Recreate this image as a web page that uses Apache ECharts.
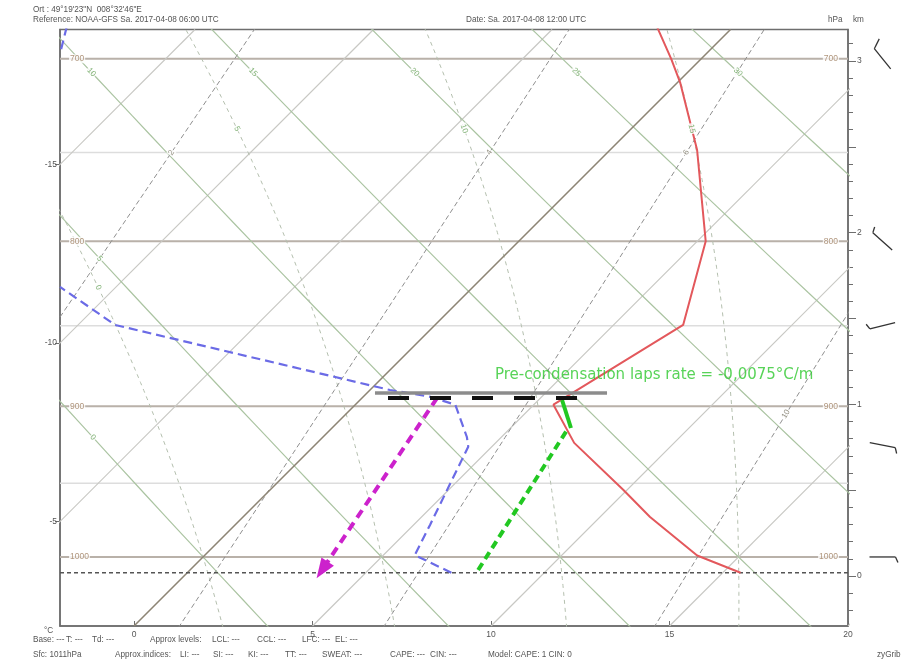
<!DOCTYPE html>
<html><head><meta charset="utf-8">
<script src="https://cdn.jsdelivr.net/npm/echarts@6/dist/echarts.min.js"></script>
<style>html,body{margin:0;padding:0;background:#fff}#c{width:906px;height:667px}</style>
</head><body><div id="c"></div>
<script>
// ---------------- data ----------------
const tempPressure = [1011, 999, 972.6, 954.5, 923.5, 899, 849.5, 800, 748.6, 712.6, 700, 684];
const tempValues   = [15.5, 13.8, 11.4, 9.9, 7.2, 5.55, 6.95, 5.24, 2.44, 0.09, -0.84, -2.1];
const dewPressureLow = [1011, 998.7, 978, 926, 919.7, 899, 894, 889.7, 849.5, 826.7];
const dewValuesLow   = [7.4, 5.88, 5.46, 4.34, 4.03, 2.8, 1.88, 0.56, -8.96, -11.57];
const dewPressureTop = [695, 684];
const dewValuesTop   = [-18.2, -18.65];
const surfacePressure = 1011;
const majorIsobars = [700, 800, 900, 1000];
const minorIsobars = [750, 850, 950];
const isotherms = [-20, -15, -10, -5, 0, 5, 10, 15, 20];
const dryAdiabats = [0, 5, 10, 15, 20, 25, 30];          // potential temperature, °C
const dryLabelP   = [920, 810, 707, 707, 707, 707, 707];
const moistAdiabats = [0, 5, 10, 15];                    // wet-bulb potential temperature, °C
const moistLabelP   = [827, 737, 737, 737];
const mixingRatios = [2, 4, 6, 10];                      // g/kg
const mixLabelP    = [750, 750, 750, 905];
const xTicks = [0, 5, 10, 15, 20];
const leftTicks = [-15, -10, -5];
const kmTicks = [0, 1, 2, 3];
const windPressure = [700, 800, 850, 925, 1000];
const windDir   = [321, 312, 256, 101, 90];
const windSpeed = [10, 5, 5, 5, 5];
// annotations: [x value, height km]
const greyBar      = [[6.75, 1.0658], [13.25, 1.0658]];
const blackDashed  = [[7.115, 1.0367], [12.41, 1.0367]];
const magentaArrow = [[8.49, 1.0367], [5.27, 0.0349]];
const greenDashed  = [[9.64, 0.0349], [12.13, 0.8503]];
const greenSolid   = [[11.99, 1.025], [12.24, 0.862]];
const noteText = 'Pre-condensation laps rate = -0,0075°C/m';
const notePos  = [10.11, 1.1707];

// ---------------- diagram geometry ----------------
const xMin = -2.073, xMax = 20;
const hBot = -0.2912, hTop = 3.1829;
const SKEW = 4.8095;   // °C shift per km (45° isotherms)
const PXX = 788 / (xMax - xMin), PXY = 596.5 / (hTop - hBot);
function hKm(p) { return 44.3308 * (1 - Math.pow(p / 1013.25, 0.190263)); }
function pt(T, p) { const h = hKm(p); return [T + (h - hBot) * SKEW, h]; }
function es(t) { return 6.112 * Math.exp(17.67 * t / (t + 243.5)); }
function thetaE(t, p) {
  const T = t + 273.15, e = es(t), rs = 0.622 * e / (p - e);
  return T * Math.pow(1000 / p, 0.2857) * Math.exp(2.5e6 * rs / (1004 * T));
}
function moistT(te, p) {
  let lo = -80, hi = 45;
  for (let i = 0; i < 60; i++) { const m = (lo + hi) / 2; if (thetaE(m, p) > te) hi = m; else lo = m; }
  return (lo + hi) / 2;
}
function dryT(th, p) { return (th + 273.15) * Math.pow(p / 1000, 0.2857) - 273.15; }
function mixT(w, p) { const e = w * p / (622 + w), l = Math.log(e / 6.112); return 243.5 * l / (17.67 - l); }
const pressures = (step) => { const a = []; for (let p = 1050; p >= 670; p -= step) a.push(p); return a; };

function angleAt(fn, p) {
  const a = pt(fn(p), p), b = pt(fn(p - 5), p - 5);
  let ang = Math.atan2((b[1] - a[1]) * PXY, (b[0] - a[0]) * PXX) * 180 / Math.PI;
  if (ang > 90) ang -= 180; if (ang < -90) ang += 180;
  return ang;
}

const baseLine = (data, style, z) => ({
  type: 'line', data, symbol: 'none', showSymbol: false, silent: true, clip: true,
  animation: false, lineStyle: style, z: z || 2, emphasis: { disabled: true }
});

const series = [];
majorIsobars.forEach(p => series.push(baseLine([[xMin, hKm(p)], [xMax, hKm(p)]], { color: '#b9b1a9', width: 2 }, 1)));
minorIsobars.forEach(p => series.push(baseLine([[xMin, hKm(p)], [xMax, hKm(p)]], { color: '#dddddd', width: 1.5 }, 1)));
isotherms.forEach(T => series.push(baseLine([[T, hBot], [T + (hTop - hBot) * SKEW, hTop]],
  T === 0 ? { color: '#8d8575', width: 1.6 } : { color: '#c8c8c4', width: 1.2 }, T === 0 ? 2 : 1)));
dryAdiabats.forEach(th => series.push(baseLine(pressures(10).map(p => pt(dryT(th, p), p)), { color: '#abc4a2', width: 1.2 }, 1)));
const moistTE = moistAdiabats.map(tw => thetaE(tw, 1000));
moistTE.forEach(te => series.push(baseLine(pressures(5).map(p => pt(moistT(te, p), p)), { color: '#b4bfae', width: 1, type: [4, 4] }, 1)));
mixingRatios.forEach(w => series.push(baseLine(pressures(10).map(p => pt(mixT(w, p), p)), { color: '#8e8e8e', width: 1, type: [5, 3] }, 1)));
series.push(baseLine([[xMin, hKm(surfacePressure)], [xMax, hKm(surfacePressure)]], { color: '#555', width: 1.4, type: [4, 3] }, 2));

// sounding
series.push(baseLine(tempPressure.map((p, i) => pt(tempValues[i], p)), { color: '#e3585c', width: 2 }, 4));
series.push(baseLine(dewPressureLow.map((p, i) => pt(dewValuesLow[i], p)), { color: '#6b6be6', width: 2.2, type: [9, 5] }, 4));
series.push(baseLine(dewPressureTop.map((p, i) => pt(dewValuesTop[i], p)), { color: '#6b6be6', width: 2.2, type: [9, 5] }, 4));

// annotations
series.push(baseLine(greyBar, { color: '#8c8c8c', width: 3.5 }, 6));
series.push(baseLine(blackDashed, { color: '#111', width: 4, type: [21, 21] }, 7));
series.push(baseLine(greenDashed, { color: '#22c822', width: 4, type: [8, 5] }, 6));
series.push(baseLine(greenSolid, { color: '#22c822', width: 4 }, 6));
series.push({
  type: 'line', data: [], silent: true, animation: false, z: 6,
  markLine: {
    silent: true, animation: false, symbol: ['none', 'triangle'], symbolSize: [15, 20],
    label: { show: false }, emphasis: { disabled: true },
    lineStyle: { color: '#cc22cc', width: 4, type: [9, 6] },
    data: [[{ coord: magentaArrow[0] }, { coord: magentaArrow[1] }]]
  }
});

// grid labels
const labelItems = [];
const addLabel = (fn, p, text, color) => {
  labelItems.push({ value: pt(fn(p), p), label: { formatter: text, rotate: angleAt(fn, p), color } });
};
dryAdiabats.forEach((th, i) => addLabel(p => dryT(th, p), dryLabelP[i], String(th), '#5f9e50'));
moistAdiabats.forEach((tw, i) => addLabel(p => moistT(moistTE[i], p), moistLabelP[i], String(tw), '#5f9e50'));
mixingRatios.forEach((w, i) => addLabel(p => mixT(w, p), mixLabelP[i], String(w), '#7d7866'));
series.push({
  type: 'scatter', data: labelItems, symbolSize: 0, silent: true, animation: false, z: 5,
  label: { show: true, position: 'inside', fontSize: 8, fontFamily: 'Liberation Sans', backgroundColor: '#fff', padding: [0, 1] }
});
const isobarLabels = [];
majorIsobars.forEach(p => {
  isobarLabels.push({ value: [xMin + 9 / PXX, hKm(p)], label: { position: 'right', formatter: String(p) } });
  isobarLabels.push({ value: [xMax - 9 / PXX, hKm(p)], label: { position: 'left', formatter: String(p) } });
});
series.push({
  type: 'scatter', data: isobarLabels, symbolSize: 0, silent: true, animation: false, z: 5,
  label: { show: true, distance: 0, fontSize: 8.5, fontFamily: 'Liberation Sans', color: '#9c7c5c', backgroundColor: '#fff', padding: [0, 1] }
});
series.push({
  type: 'scatter', data: [{ value: notePos }], symbolSize: 0, silent: true, animation: false, z: 8,
  label: { show: true, position: 'right', distance: 0, formatter: noteText, fontSize: 15, fontFamily: 'DejaVu Sans', color: '#2ec82e' }
});

// wind barbs
series.push({
  type: 'custom', coordinateSystem: 'cartesian2d', clip: false, silent: true, animation: false, z: 5,
  data: windPressure.map((p, i) => [xMax, hKm(p), windDir[i], windSpeed[i]]),
  renderItem: function (params, api) {
    const c = api.coord([api.value(0), api.value(1)]);
    const cx = c[0] + 34.5, cy = c[1];
    const d = api.value(2) * Math.PI / 180, sp = api.value(3);
    const ux = Math.sin(d), uy = -Math.cos(d);
    const L = 13;
    const sx = cx - ux * L, sy = cy - uy * L, tx = cx + ux * L, ty = cy + uy * L;
    const px = -uy, py = ux;
    const bx = 0.91 * px + 0.41 * ux, by = 0.91 * py + 0.41 * uy;
    const bl = sp >= 10 ? 11 : 6;
    const st = { stroke: '#333', lineWidth: 1.3 };
    return { type: 'group', children: [
      { type: 'line', shape: { x1: sx, y1: sy, x2: tx, y2: ty }, style: st },
      { type: 'line', shape: { x1: tx, y1: ty, x2: tx + bx * bl, y2: ty + by * bl }, style: st }
    ] };
  }
});

const kmMinor = [], kmMajor = [];
for (let i = -2; i <= 31; i++) { kmMinor.push(i / 10); if (i % 5 === 0) kmMajor.push(i / 10); }
const axisCol = '#6e6e6e';
const lbl = { color: '#555', fontSize: 8.5, fontFamily: 'Liberation Sans' };

const t = (text, x, y) => ({ type: 'text', x, y, silent: true,
  style: { text, fill: '#555', font: '8.2px "Liberation Sans"', verticalAlign: 'middle' } });
const graphics = [
  t('Ort : 49°19\'23"N  008°32\'46"E', 33, 10),
  t('Reference: NOAA-GFS Sa. 2017-04-08 06:00 UTC', 33, 19.5),
  t('Date: Sa. 2017-04-08 12:00 UTC', 466, 19.5),
  t('hPa', 828, 19.5), t('km', 853, 19.5),
  t('°C', 44, 631),
  t('Base: ---', 33, 640), t('T: ---', 66, 640), t('Td: ---', 92, 640),
  t('Approx levels:', 150, 640), t('LCL: ---', 212, 640), t('CCL: ---', 257, 640),
  t('LFC: ---', 302, 640), t('EL: ---', 335, 640),
  t('Sfc: 1011hPa', 33, 655), t('Approx.indices:', 115, 655), t('LI: ---', 180, 655),
  t('SI: ---', 213, 655), t('KI: ---', 248, 655), t('TT: ---', 285, 655),
  t('SWEAT: ---', 322, 655), t('CAPE: ---', 390, 655), t('CIN: ---', 430, 655),
  t('Model: CAPE: 1 CIN: 0', 488, 655), t('zyGrib', 877, 655)
];

const chart = echarts.init(document.getElementById('c'));
chart.setOption({
  animation: false,
  backgroundColor: '#fff',
  grid: { left: 60, right: 58, top: 29.5, bottom: 41, show: true, borderColor: axisCol, borderWidth: 1.5 },
  xAxis: {
    type: 'value', min: xMin, max: xMax, splitLine: { show: false },
    axisLine: { show: true, onZero: false, lineStyle: { color: axisCol, width: 1.5 } },
    axisTick: { show: true, inside: true, length: 5, customValues: xTicks, lineStyle: { color: axisCol } },
    axisLabel: Object.assign({ customValues: xTicks, margin: 4 }, lbl)
  },
  yAxis: [
    {
      type: 'value', position: 'left', min: hBot, max: hTop, splitLine: { show: false },
      axisLine: { show: true, onZero: false, lineStyle: { color: axisCol, width: 1.5 } },
      axisTick: { show: true, length: 5, customValues: leftTicks.map(T => hBot + (xMin - T) / SKEW), lineStyle: { color: axisCol } },
      axisLabel: Object.assign({ customValues: leftTicks.map(T => hBot + (xMin - T) / SKEW), margin: 3,
        formatter: v => String(Math.round(xMin - (v - hBot) * SKEW)) }, lbl)
    },
    {
      type: 'value', position: 'right', min: hBot, max: hTop, splitLine: { show: false },
      axisLine: { show: true, onZero: false, lineStyle: { color: axisCol, width: 1.5 } },
      axisTick: { show: true, length: 5, customValues: kmMinor, lineStyle: { color: axisCol } },
      axisLabel: Object.assign({ customValues: kmTicks, margin: 9, formatter: v => String(Math.round(v)) }, lbl)
    },
    {
      type: 'value', position: 'right', min: hBot, max: hTop, splitLine: { show: false },
      axisLine: { show: false, onZero: false },
      axisTick: { show: true, length: 8, customValues: kmMajor, lineStyle: { color: axisCol } },
      axisLabel: { show: false }
    }
  ],
  series,
  graphic: graphics
});
</script></body></html>
